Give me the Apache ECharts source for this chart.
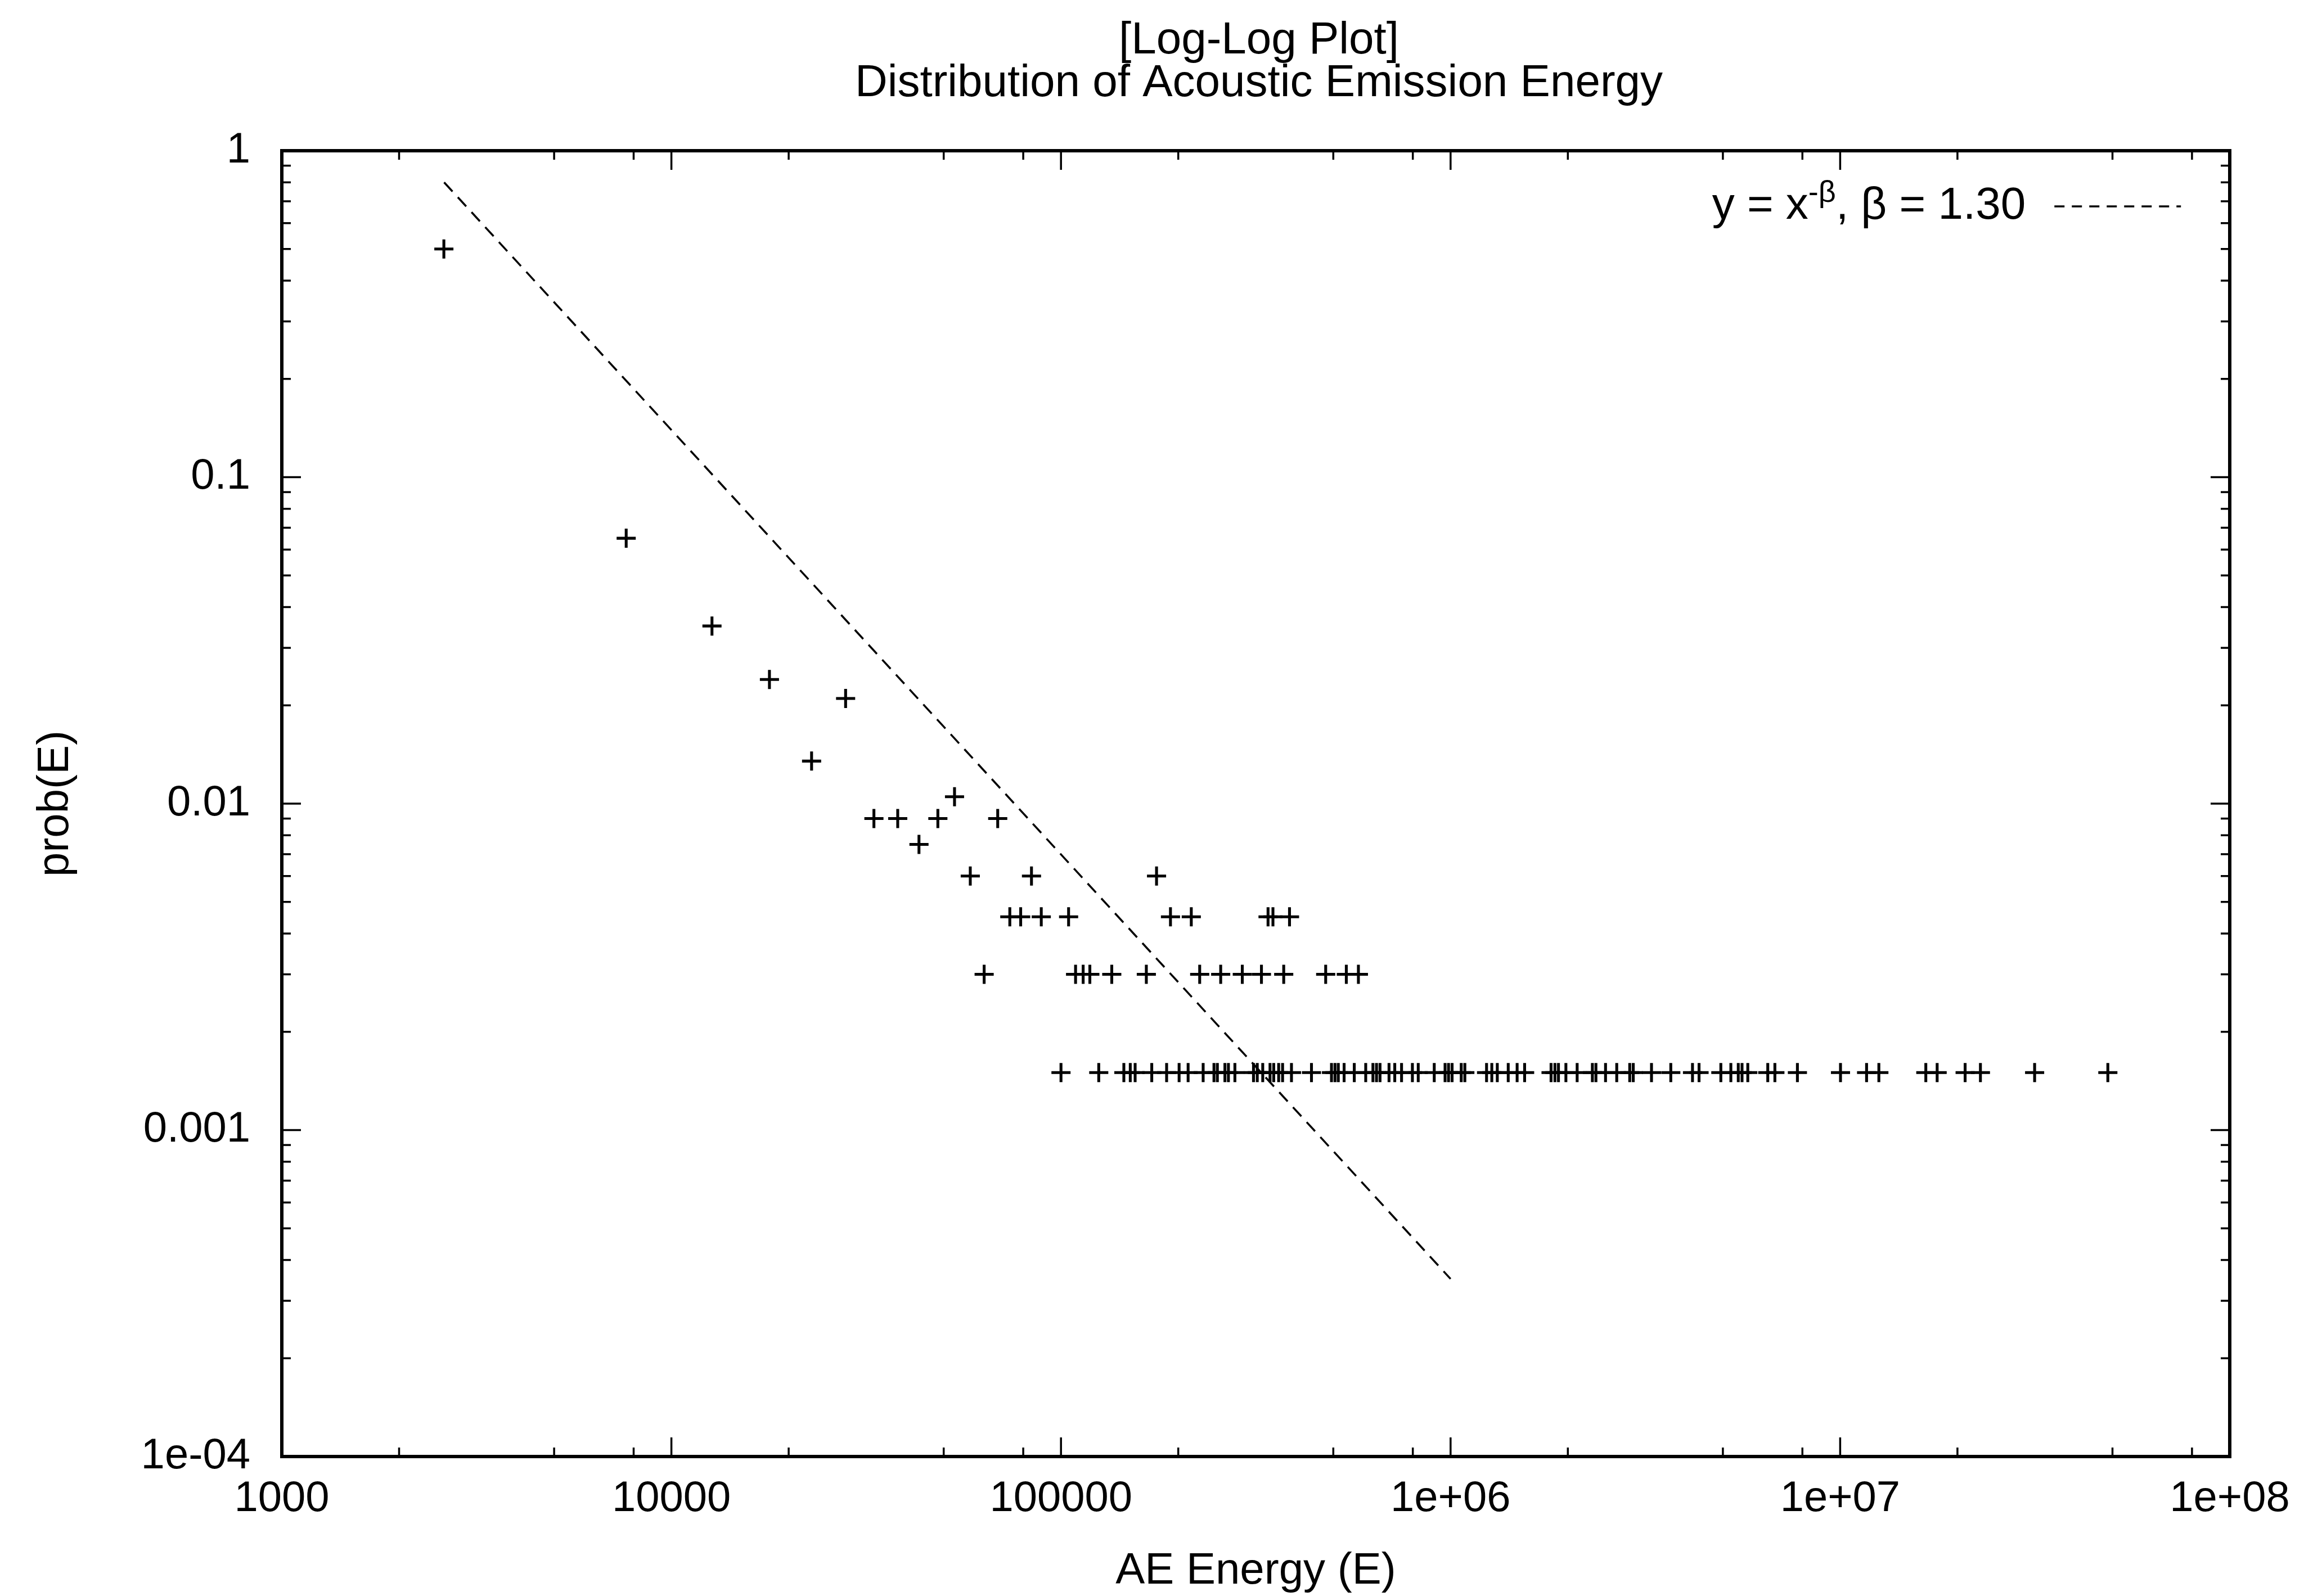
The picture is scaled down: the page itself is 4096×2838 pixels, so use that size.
<!DOCTYPE html>
<html>
<head>
<meta charset="utf-8">
<script src="https://cdn.jsdelivr.net/npm/echarts@6/dist/echarts.min.js"></script>
<style>
html,body{margin:0;padding:0;background:#fff;}
#chart{width:4096px;height:2838px;}
</style>
</head>
<body>
<div id="chart"></div>
<script>
// ---- data ----
const xTickLabels = ['1000', '10000', '100000', '1e+06', '1e+07', '1e+08'];
const yTickLabels = ['1e-04', '0.001', '0.01', '0.1', '1'];
const xMajorTicks = [1000, 10000, 100000, 1000000, 10000000, 100000000];
const xMinorFactors = [2, 5, 8];
const yMajorTicks = [0.0001, 0.001, 0.01, 0.1, 1];
const yMinorFactors = [2, 3, 4, 5, 6, 7, 8, 9];

// isolated points (upper part of the distribution)
const topEnergies = [2606, 7655, 12710, 17850, 28000, 22900, 53300, 43200];
const topProbs    = [0.5, 0.065, 0.035, 0.024, 0.021, 0.0135, 0.0105, 0.0075];

const row0090 = [33100, 38100, 48300, 68800];
const row0060 = [58500, 84000, 175900];
const row0045 = [73900, 78800, 89000, 104600, 191000, 216000, 340000, 350000, 386000];
const row0030 = [63500, 109000, 114000, 118600, 135000, 165600, 227000, 257000, 292000,
                 327000, 373000, 478000, 540000, 580000];
const row0015 = [100000, 125000, 145000, 150600, 155000, 171000, 186700, 201000, 212000,
                 231700, 247000, 252000, 263500, 269000, 279500, 312000, 319000, 329500,
                 344000, 351600, 362000, 370500, 390500, 439500, 494700, 505000, 515000,
                 533000, 566000, 605600, 632000, 645500, 659000, 695000, 719000, 748500,
                 798000, 826000, 908000, 968000, 988000, 1009000, 1065000, 1088000,
                 1237000, 1276000, 1318000, 1406000, 1482000, 1549000, 1811000, 1853000,
                 1892000, 1977000, 2113000, 2312000, 2361000, 2499000, 2670000, 2883000,
                 2944000, 3279000, 3675000, 4178000, 4343000, 4940000, 5241000, 5476000,
                 5599000, 5793000, 6519000, 6799000, 7767000, 10020000, 11690000, 12570000,
                 16590000, 17740000, 20930000, 22910000, 31560000, 48650000];

// fitted power law y = x^-beta, beta = 1.30 (end points as drawn)
const fitEnergies = [2610, 1000000];
const fitProbs    = [0.80, 0.00035];

// ---- build series data ----
const points = [];
topEnergies.forEach((e, i) => points.push([e, topProbs[i]]));
row0090.forEach(e => points.push([e, 0.009]));
row0060.forEach(e => points.push([e, 0.006]));
row0045.forEach(e => points.push([e, 0.0045]));
row0030.forEach(e => points.push([e, 0.003]));
row0015.forEach(e => points.push([e, 0.0015]));
const fitData = fitEnergies.map((e, i) => [e, fitProbs[i]]);

const X_MIN = xMajorTicks[0], X_MAX = xMajorTicks[xMajorTicks.length - 1];
const Y_MIN = yMajorTicks[0], Y_MAX = yMajorTicks[yMajorTicks.length - 1];

const xTickData = [];
xMajorTicks.forEach((t, i) => {
  xTickData.push([t, Y_MIN, 1]);
  if (i < xMajorTicks.length - 1) xMinorFactors.forEach(f => xTickData.push([t * f, Y_MIN, 0]));
});
const yTickData = [];
yMajorTicks.forEach((t, i) => {
  yTickData.push([X_MIN, t, 1]);
  if (i < yMajorTicks.length - 1) yMinorFactors.forEach(f => yTickData.push([X_MIN, t * f, 0]));
});

const FONT = '"Liberation Sans", Arial, Helvetica, sans-serif';
const MAJ = 34, MIN = 16, TW = 3.5;

const plusPath = 'path://M8.5,0 h3 v8.5 h8.5 v3 h-8.5 v8.5 h-3 v-8.5 h-8.5 v-3 h8.5 z';

const chart = echarts.init(document.getElementById('chart'), null, {renderer: 'canvas'});
chart.setOption({
  animation: false,
  backgroundColor: '#fff',
  graphic: [
    {type: 'text', x: 2238, y: 73, style: {text: '[Log-Log Plot]', textAlign: 'center', textVerticalAlign: 'middle', fontSize: 80, fontFamily: FONT, fill: '#000'}},
    {type: 'text', x: 2238, y: 149, style: {text: 'Distribution of Acoustic Emission Energy', textAlign: 'center', textVerticalAlign: 'middle', fontSize: 80, fontFamily: FONT, fill: '#000'}}
  ],
  grid: {left: 501, right: 132, top: 268, bottom: 242, show: true, borderColor: '#000', borderWidth: 6, backgroundColor: 'transparent'},
  legend: {
    data: ['fit'],
    right: 212, top: 312,
    align: 'right',
    itemWidth: 225, itemHeight: 20,
    selectedMode: false,
    itemStyle: {opacity: 0, borderWidth: 0},
    lineStyle: {width: 3.5, type: [18, 13], color: '#000'},
    formatter: () => 'y = x{sup|-β}, β = 1.30',
    textStyle: {fontSize: 80, color: '#000', fontFamily: FONT, padding: [0, 46, 0, 0],
      rich: {sup: {fontSize: 54, fontFamily: FONT, color: '#000', padding: [0, 0, 46, 0]}}}
  },
  xAxis: {
    type: 'log', logBase: 10, min: X_MIN, max: X_MAX, splitNumber: 5,
    axisLine: {show: false}, axisTick: {show: false}, splitLine: {show: false}, minorTick: {show: false},
    axisLabel: {fontSize: 76, color: '#000', fontFamily: FONT, margin: 38,
      formatter: v => xTickLabels[Math.round(Math.log10(v)) - 3]},
    name: 'AE Energy (E)', nameLocation: 'middle', nameGap: 165,
    nameTextStyle: {fontSize: 78, color: '#000', fontFamily: FONT}
  },
  yAxis: {
    type: 'log', logBase: 10, min: Y_MIN, max: Y_MAX, splitNumber: 4,
    axisLine: {show: false}, axisTick: {show: false}, splitLine: {show: false}, minorTick: {show: false},
    axisLabel: {fontSize: 76, color: '#000', fontFamily: FONT, margin: 56,
      formatter: v => yTickLabels[Math.round(Math.log10(v)) + 4]},
    name: 'prob(E)', nameLocation: 'middle', nameGap: 363, nameRotate: 90,
    nameTextStyle: {fontSize: 78, color: '#000', fontFamily: FONT}
  },
  series: [
    {
      name: 'data', type: 'scatter', data: points,
      symbol: plusPath, symbolSize: 34,
      itemStyle: {color: '#000', opacity: 1}, silent: true, z: 3
    },
    {
      name: 'fit', type: 'line', data: fitData, symbol: 'none', showSymbol: false,
      lineStyle: {color: '#000', width: 3.5, type: [22, 14]}, itemStyle: {color: '#000'},
      silent: true, z: 2
    },
    {
      name: 'xticks', type: 'custom', data: xTickData, silent: true, z: 4,
      renderItem: (params, api) => {
        const x = api.value(0);
        const len = api.value(2) ? MAJ : MIN;
        const b = api.coord([x, Y_MIN]);
        const t = api.coord([x, Y_MAX]);
        return {type: 'group', children: [
          {type: 'line', shape: {x1: b[0], y1: b[1], x2: b[0], y2: b[1] - len}, style: {stroke: '#000', lineWidth: TW}},
          {type: 'line', shape: {x1: t[0], y1: t[1], x2: t[0], y2: t[1] + len}, style: {stroke: '#000', lineWidth: TW}}
        ]};
      }
    },
    {
      name: 'yticks', type: 'custom', data: yTickData, silent: true, z: 4,
      renderItem: (params, api) => {
        const y = api.value(1);
        const len = api.value(2) ? MAJ : MIN;
        const l = api.coord([X_MIN, y]);
        const r = api.coord([X_MAX, y]);
        return {type: 'group', children: [
          {type: 'line', shape: {x1: l[0], y1: l[1], x2: l[0] + len, y2: l[1]}, style: {stroke: '#000', lineWidth: TW}},
          {type: 'line', shape: {x1: r[0], y1: r[1], x2: r[0] - len, y2: r[1]}, style: {stroke: '#000', lineWidth: TW}}
        ]};
      }
    }
  ]
});
</script>
</body>
</html>
